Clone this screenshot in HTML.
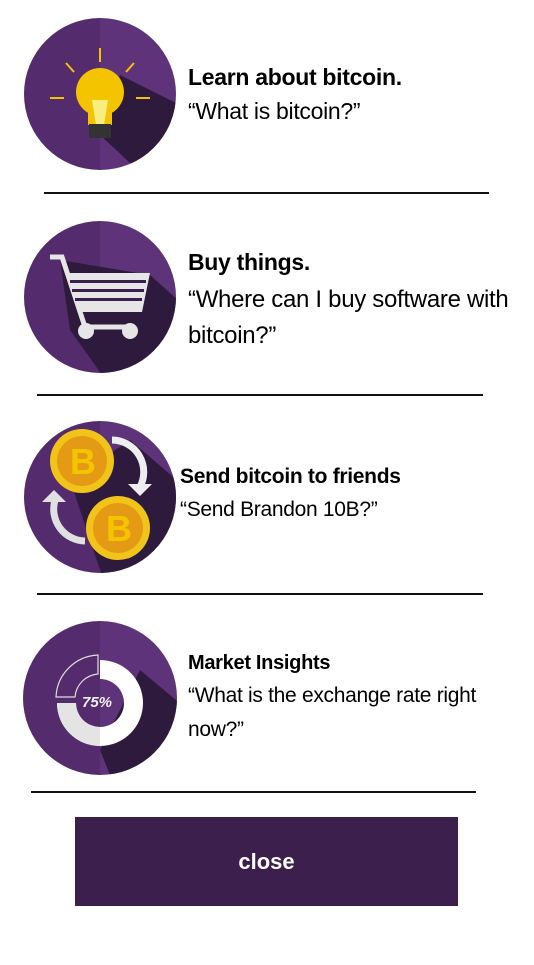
<!DOCTYPE html>
<html><head><meta charset="utf-8"><style>
body{margin:0;width:534px;height:965px;background:#fff;position:relative;overflow:hidden;font-family:"Liberation Sans",sans-serif;color:#000}
.t{position:absolute;white-space:nowrap;letter-spacing:-0.3px}
.b{font-weight:bold}
.hr{position:absolute;height:2px;background:#111}
svg{position:absolute;left:0;top:0}
#btn{position:absolute;left:75px;top:817px;width:383px;height:89px;background:#3d1f4e;color:#fff;font-weight:bold;font-size:22px;display:flex;align-items:center;justify-content:center}
</style></head><body>
<svg width="534" height="965">
<defs>
<clipPath id="c1"><circle cx="100" cy="94" r="76"/></clipPath>
<clipPath id="c2"><circle cx="100" cy="297" r="76"/></clipPath>
<clipPath id="c3"><circle cx="100" cy="497" r="76"/></clipPath>
<clipPath id="c4"><circle cx="100" cy="698" r="77"/></clipPath>
</defs>
<g clip-path="url(#c1)">
<rect x="20" y="15" width="80" height="160" fill="#542b6c"/><rect x="100" y="15" width="80" height="160" fill="#5e337a"/>
<polygon points="100,135 120,75 200,115 200,200 170,200" fill="#2e1a3d"/>
<circle cx="100" cy="92" r="24" fill="#f5c400"/><rect x="88" y="100" width="24" height="25" fill="#f5c400"/>
<polygon points="92,100 108,100 104,125 96,125" fill="#f8ee80"/>
<rect x="89" y="124" width="22" height="14" fill="#333"/>
<line x1="100" y1="48" x2="100" y2="62" stroke="#f5c400" stroke-width="2"/>
<line x1="66" y1="63" x2="74" y2="72" stroke="#f5c400" stroke-width="2"/>
<line x1="134" y1="63" x2="126" y2="72" stroke="#f5c400" stroke-width="2"/>
<line x1="50" y1="98" x2="64" y2="98" stroke="#f5c400" stroke-width="2"/>
<line x1="136" y1="98" x2="150" y2="98" stroke="#f5c400" stroke-width="2"/>
</g>
<g clip-path="url(#c2)">
<rect x="20" y="215" width="80" height="165" fill="#542b6c"/><rect x="100" y="215" width="80" height="165" fill="#5e337a"/>
<polygon points="60,260 150,275 200,320 200,400 120,400 70,330" fill="#2e1a3d"/>
<polyline points="50,257 62,257 85,327 135,327" fill="none" stroke="#e6e6e6" stroke-width="5"/>
<polygon points="66,273 150,273 142,312 78,312" fill="#e6e6e6"/>
<g fill="#3b1f4f"><rect x="70" y="280" width="76" height="3"/><rect x="72" y="289" width="72" height="3"/><rect x="75" y="298" width="67" height="3"/></g>
<circle cx="86" cy="331" r="8" fill="#e6e6e6"/><circle cx="130" cy="331" r="8" fill="#e6e6e6"/>
</g>
<g clip-path="url(#c3)">
<rect x="20" y="415" width="80" height="165" fill="#542b6c"/><rect x="100" y="415" width="80" height="165" fill="#5e337a"/>
<polygon points="70,480 130,440 200,500 200,600 110,600" fill="#2e1a3d"/>
<path d="M112,440 A32,32 0 0 1 140,487" fill="none" stroke="#eee" stroke-width="7"/>
<polygon points="128,484 152,484 140,496" fill="#eee"/>
<path d="M85,541 A32,32 0 0 1 55,500" fill="none" stroke="#e0e0e0" stroke-width="7"/>
<polygon points="42,502 66,502 54,490" fill="#e0e0e0"/>
<circle cx="82" cy="461" r="32" fill="#f0c419"/><circle cx="82" cy="461" r="25" fill="#e59a16"/>
<text x="70" y="474" font-size="36" font-weight="bold" fill="#f5c400" font-family="Liberation Sans">B</text>
<circle cx="118" cy="528" r="32" fill="#f0c419"/><circle cx="118" cy="528" r="25" fill="#e59a16"/>
<text x="106" y="541" font-size="36" font-weight="bold" fill="#f5c400" font-family="Liberation Sans">B</text>
</g>
<g clip-path="url(#c4)">
<rect x="20" y="615" width="80" height="165" fill="#542b6c"/><rect x="100" y="615" width="80" height="165" fill="#5e337a"/>
<polygon points="100,750 140,670 200,720 200,800 120,800" fill="#2e1a3d"/>
<path d="M100,660 A43,43 0 1 1 57,703 L76,703 A24,24 0 1 0 100,679 Z" fill="#fff"/>
<path d="M57,703 A43,43 0 0 0 100,746 L100,727 A24,24 0 0 1 76,703 Z" fill="#e4e4e4"/>
<path d="M56,697 A44,44 0 0 1 98,655 L98,674 A25,25 0 0 0 75,697 Z" fill="none" stroke="#ddd" stroke-width="1.2"/>
<text x="82" y="707" font-size="15" font-weight="bold" font-style="italic" fill="#eee" font-family="Liberation Sans">75%</text>
</g>
</svg>
<div class="t b" style="left:188px;top:64px;font-size:23px">Learn about bitcoin.</div>
<div class="t" style="left:188px;top:98px;font-size:23px">“What is bitcoin?”</div>
<div class="hr" style="left:44px;top:192px;width:445px"></div>
<div class="t b" style="left:188px;top:249px;font-size:23px">Buy things.</div>
<div class="t" style="left:188px;top:282px;font-size:24px;line-height:36px;white-space:normal;width:346px">“Where can I buy software with bitcoin?”</div>
<div class="hr" style="left:37px;top:394px;width:446px"></div>
<div class="t b" style="left:180px;top:465px;font-size:21px">Send bitcoin to friends</div>
<div class="t" style="left:180px;top:498px;font-size:21px">“Send Brandon 10B?”</div>
<div class="hr" style="left:37px;top:593px;width:446px"></div>
<div class="t b" style="left:188px;top:652px;font-size:20px">Market Insights</div>
<div class="t" style="left:188px;top:679px;font-size:21px;line-height:34px;white-space:normal;width:320px">“What is the exchange rate right now?”</div>
<div class="hr" style="left:31px;top:791px;width:445px"></div>
<div id="btn">close</div>
</body></html>
